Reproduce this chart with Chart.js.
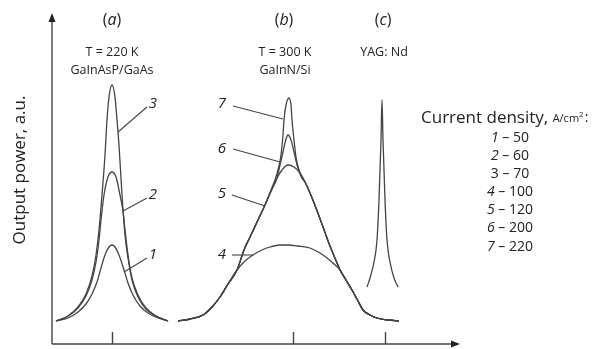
<!DOCTYPE html>
<html>
<head>
<meta charset="utf-8">
<script src="https://cdn.jsdelivr.net/npm/chart.js@4.4.1/dist/chart.umd.min.js"></script>
<style>
  html, body { margin: 0; padding: 0; background: #fff; }
  #wrap { width: 603px; height: 349px; }
</style>
</head>
<body>
<div id="wrap"><canvas id="chart" width="603" height="349"></canvas></div>
<script>
// spectra, x and y in arbitrary units
const curve1 = [[4,23],[16,26],[26,32],[34,40],[40,50],[45,62],[49,76],[53,89],[57,97],[60,99],[63,97],[67,89],[72,74],[76,61],[81,49],[88,38],[96,31],[106,26],[116,23]];
const curve2 = [[4,23],[16,28],[26,36],[34,48],[40,64],[44,82],[47,104],[49,124],[52,149],[56,167],[60,172],[64,167],[68,149],[71,133],[73,114],[76,89],[80,66],[86,49],[94,36],[104,28],[116,23]];
const curve3 = [[4,23],[16,28],[26,37],[34,50],[40,68],[44,89],[47,114],[50,149],[53,189],[55,224],[57,247],[60,259],[63,247],[65,224],[67,199],[70,149],[73,109],[76,86],[80,64],[86,47],[94,35],[104,28],[116,23]];

const curve4 = [[126,23],[138,25],[151,29],[160,37],[168,47],[176,60],[185,74],[193,83],[201,89],[210,94],[218,97],[228,99],[236,99],[246,98],[258,96],[268,91],[275,86],[282,80],[288,74],[294,64],[300,54],[306,43],[311,34],[318,29],[325,26],[336,24],[347,23]];
const curve5 = [[126,23],[138,25],[151,29],[160,37],[168,47],[176,60],[185,74],[192,94],[198,107],[206,124],[213,139],[220,155],[225,166],[230,174],[236,179],[242,177],[248,171],[253,162],[258,151],[264,136],[271,117],[278,98],[285,81],[288,74],[294,64],[300,54],[306,43],[311,34],[318,29],[325,26],[336,24],[347,23]];
const curve6 = [[126,23],[138,25],[151,29],[160,37],[168,47],[176,60],[185,74],[192,94],[198,107],[206,124],[213,139],[220,155],[225,166],[228,179],[231,192],[234,205],[236,209],[239,204],[242,192],[245,179],[249,168],[253,162],[258,151],[264,136],[271,117],[278,98],[285,81],[288,74],[294,64],[300,54],[306,43],[311,34],[318,29],[325,26],[336,24],[347,23]];
const curve7 = [[126,23],[138,25],[151,29],[160,37],[168,47],[176,60],[185,74],[192,94],[198,107],[206,124],[213,139],[219,154],[223,164],[226,174],[229,189],[231,209],[232,224],[234,239],[237,246],[239,239],[240,224],[242,204],[244,187],[247,174],[250,166],[253,162],[258,151],[264,136],[271,117],[278,98],[285,81],[288,74],[294,64],[300,54],[306,43],[311,34],[318,29],[325,26],[336,24],[347,23]];

const curveYag = [[315,57],[318,66],[322,82],[325,104],[327,144],[329,204],[330,244],[331,204],[333,144],[335,104],[338,82],[342,66],[346,57]];

const tickValues = [60, 241, 333];

const panelTitles = ['(a)', '(b)', '(c)'];
const panelLines = [['T = 220 K', 'GaInAsP/GaAs'], ['T = 300 K', 'GaInN/Si'], ['YAG: Nd']];

const legendNumbers = ['1', '2', '3', '4', '5', '6', '7'];
const legendDensity = [50, 60, 70, 100, 120, 200, 220];

// curve number, text point, end of leader line (data units)
const curveTags = [
  ['3', [101, 240], [95, 237], [66, 212]],
  ['2', [101, 149], [95, 146], [71, 133]],
  ['1', [101, 89], [95, 86], [72, 72]],
  ['7', [170, 240], [181, 238], [231, 225]],
  ['6', [170, 195], [181, 195], [228, 182]],
  ['5', [170, 150], [180, 149], [213, 138]],
  ['4', [170, 89], [180, 89], [201, 89]]
];

const ink = '#444';
const textInk = '#222';
const fam = '"Open Sans", "DejaVu Sans", sans-serif';

function makeSet(pts) {
  return {
    data: pts.map(p => ({ x: p[0], y: p[1] })),
    showLine: true,
    borderColor: ink,
    borderWidth: 1.3,
    pointRadius: 0,
    cubicInterpolationMode: 'monotone',
    fill: false
  };
}

const decor = {
  id: 'decor',
  beforeDatasetsDraw(chart) {
    const { ctx, chartArea: a, scales: { x } } = chart;
    ctx.save();
    ctx.strokeStyle = ink;
    ctx.fillStyle = '#222';
    ctx.lineWidth = 1.4;
    ctx.beginPath();
    ctx.moveTo(a.left, a.bottom);
    ctx.lineTo(a.left, a.top + 6);
    ctx.moveTo(a.left, a.bottom);
    ctx.lineTo(a.right - 6, a.bottom);
    tickValues.forEach(v => {
      const px = Math.round(x.getPixelForValue(v)) + 0.5;
      ctx.moveTo(px, a.bottom);
      ctx.lineTo(px, a.bottom - 12);
    });
    ctx.stroke();
    // arrow heads
    ctx.beginPath();
    ctx.moveTo(a.left, a.top);
    ctx.lineTo(a.left - 3.5, a.top + 9);
    ctx.lineTo(a.left + 3.5, a.top + 9);
    ctx.closePath();
    ctx.fill();
    ctx.beginPath();
    ctx.moveTo(a.right, a.bottom);
    ctx.lineTo(a.right - 9, a.bottom - 3.5);
    ctx.lineTo(a.right - 9, a.bottom + 3.5);
    ctx.closePath();
    ctx.fill();
    ctx.restore();
  },
  afterDraw(chart) {
    const { ctx, scales: { x, y } } = chart;
    ctx.save();
    ctx.fillStyle = textInk;
    ctx.textAlign = 'center';
    ctx.textBaseline = 'middle';

    // panel headers
    const heads = [60, 232, 331];
    panelTitles.forEach((t, i) => {
      const px = x.getPixelForValue(heads[i]);
      ctx.font = '16px ' + fam;
      const inner = t.slice(1, -1);
      const wP = ctx.measureText('(').width;
      ctx.font = 'italic 16px ' + fam;
      const wI = ctx.measureText(inner).width;
      let sx = px - (2 * wP + wI) / 2;
      const py = 20;
      ctx.textAlign = 'left';
      ctx.font = '16px ' + fam;
      ctx.fillText('(', sx, py);
      ctx.font = 'italic 16px ' + fam;
      ctx.fillText(inner, sx + wP, py);
      ctx.font = '16px ' + fam;
      ctx.fillText(')', sx + wP + wI, py);
      ctx.textAlign = 'center';
      ctx.font = '12.5px ' + fam;
      panelLines[i].forEach((line, j) => {
        ctx.fillText(line, px + (i === 0 ? 0 : 1), 52 + j * 18);
      });
    });

    // curve tags with leader lines
    ctx.strokeStyle = ink;
    ctx.lineWidth = 1.1;
    curveTags.forEach(tag => {
      const [label, tp, l0, l1] = tag;
      ctx.beginPath();
      ctx.moveTo(x.getPixelForValue(l0[0]), y.getPixelForValue(l0[1]));
      ctx.lineTo(x.getPixelForValue(l1[0]), y.getPixelForValue(l1[1]));
      ctx.stroke();
      ctx.font = 'italic 15px ' + fam;
      ctx.fillText(label, x.getPixelForValue(tp[0]), y.getPixelForValue(tp[1]));
    });

    // y axis title
    ctx.save();
    ctx.translate(20, 170);
    ctx.rotate(-Math.PI / 2);
    ctx.font = '17px ' + fam;
    ctx.fillText('Output power, a.u.', 0, 0);
    ctx.restore();

    // legend
    ctx.textAlign = 'left';
    ctx.font = '17px ' + fam;
    const head = 'Current density, ';
    let hx = 421;
    ctx.fillText(head, hx, 118);
    hx += ctx.measureText(head).width;
    ctx.font = '11px ' + fam;
    ctx.fillText('A/cm', hx, 119);
    hx += ctx.measureText('A/cm').width;
    ctx.font = '8px ' + fam;
    ctx.fillText('2', hx, 115);
    hx += ctx.measureText('2').width + 1;
    ctx.font = '14px ' + fam;
    ctx.fillText(':', hx, 118);

    legendNumbers.forEach((n, i) => {
      const rowY = 138 + i * 18.1;
      const numFont = (n === '3' ? '' : 'italic ') + '14px ' + fam;
      ctx.font = numFont;
      const wn = ctx.measureText(n).width;
      ctx.font = '14px ' + fam;
      const rest = ' \u2013 ' + legendDensity[i];
      const wr = ctx.measureText(rest).width;
      const sx = 510 - (wn + wr) / 2;
      ctx.font = numFont;
      ctx.fillText(n, sx, rowY);
      ctx.font = '14px ' + fam;
      ctx.fillText(rest, sx + wn, rowY);
    });
    ctx.restore();
  }
};

new Chart(document.getElementById('chart'), {
  type: 'scatter',
  data: {
    datasets: [curve1, curve2, curve3, curve4, curve5, curve6, curve7, curveYag].map(makeSet)
  },
  options: {
    responsive: false,
    animation: false,
    layout: { padding: { left: 52, right: 143, top: 13, bottom: 5 } },
    plugins: { legend: { display: false }, tooltip: { enabled: false } },
    scales: {
      x: { type: 'linear', min: 0, max: 408, display: false },
      y: { type: 'linear', min: 0, max: 331, display: false }
    }
  },
  plugins: [decor]
});
</script>
</body>
</html>
